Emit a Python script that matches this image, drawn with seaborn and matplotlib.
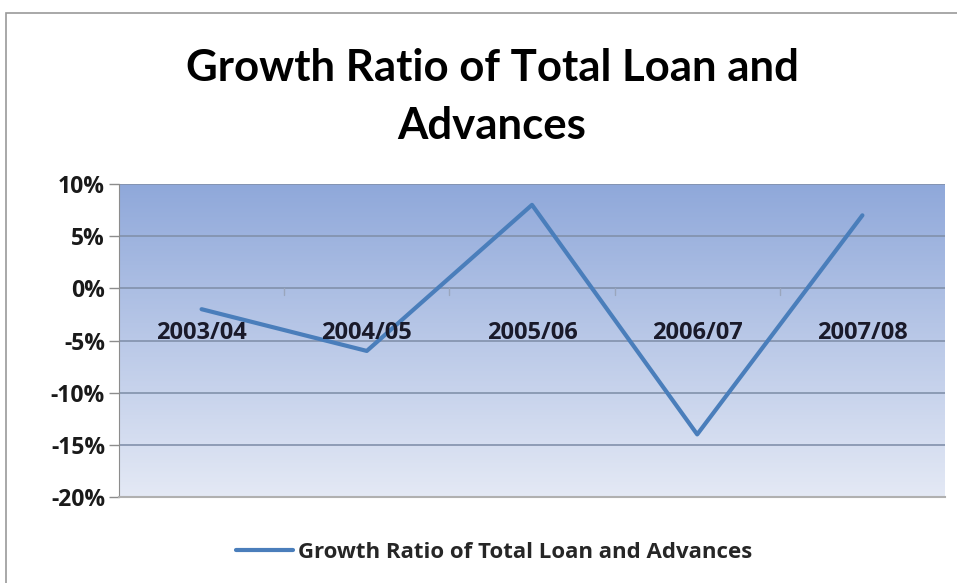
import numpy as np
import pandas as pd
import matplotlib
matplotlib.use("Agg")
import matplotlib.pyplot as plt
from matplotlib.patches import Rectangle
from matplotlib.ticker import FuncFormatter
import seaborn as sns

years = ["2003/04", "2004/05", "2005/06", "2006/07", "2007/08"]
growth = [-0.02, -0.06, 0.08, -0.14, 0.07]
y_ticks = [-0.20, -0.15, -0.10, -0.05, 0.0, 0.05, 0.10]
series_name = "Growth Ratio of Total Loan and Advances"
title_text = "Growth Ratio of Total Loan and\nAdvances"

sns.set_style("white")
plt.rcParams["font.family"] = ["Open Sans", "DejaVu Sans"]

W, H = 957, 583
fig = plt.figure(figsize=(W / 100, H / 100), dpi=100)
fig.patch.set_facecolor("white")

# chart frame
fig.add_artist(Rectangle((6 / W, -0.1), 1.2, 1.1 - 13 / H, transform=fig.transFigure,
                         fill=False, edgecolor="#9a9a9a", linewidth=1.2))

left, right, top, bottom = 119, 945, 184, 497
ax = fig.add_axes([left / W, (H - bottom) / H, (right - left) / W, (bottom - top) / H])

# vertical gradient background of the plot area
top_c = np.array([143, 168, 218]) / 255
bot_c = np.array([228, 233, 245]) / 255
t = np.linspace(0, 1, 256)[:, None]
grad = (top_c * (1 - t) + bot_c * t).reshape(256, 1, 3)
ax.imshow(grad, extent=[0, 1, 0, 1], transform=ax.transAxes, aspect="auto",
          zorder=0, interpolation="bilinear")

df = pd.DataFrame({"year": years, "growth": growth, "series": series_name})
df["pos"] = np.arange(len(years))

ax.set_ylim(-0.20, 0.10)
ax.set_xlim(-0.5, len(years) - 0.5)
for yv in y_ticks:
    ax.axhline(yv, color="#8291ab", linewidth=1.2, zorder=1)

sns.lineplot(data=df, x="pos", y="growth", hue="series", palette=["#4a7ebb"],
             linewidth=3, ax=ax, zorder=3, legend=True)

# small category-boundary ticks on the zero line
for b in np.arange(len(years) - 1) + 0.5:
    ax.plot([b, b], [0, -0.006], color="#9aa6bd", linewidth=1, zorder=2)

ax.set_yticks(y_ticks)
ax.yaxis.set_major_formatter(FuncFormatter(lambda v, p: f"{v * 100:.0f}%"))
ax.tick_params(axis="y", length=7, width=1, color="#8c8c8c", pad=3,
               labelsize=16.5, left=True)
for lab in ax.get_yticklabels():
    lab.set_fontweight("bold")
    lab.set_color("#1a1a1a")
ax.set_xticks([])
ax.set_xlabel("")
ax.set_ylabel("")

for s in ["top", "right"]:
    ax.spines[s].set_visible(False)
ax.spines["left"].set_color("#8c8c8c")
ax.spines["bottom"].set_color("#b0b0b0")
ax.spines["bottom"].set_linewidth(1.5)

# category labels sit just below the zero line
for i, yr in enumerate(years):
    ax.text(i, -0.043, yr, ha="center", va="center", fontsize=17, fontweight="bold",
            color="#1a1a2a", zorder=4)

fig.text(492 / W, 1 - 97 / H, title_text, ha="center", va="center", fontsize=31.5,
         fontweight="bold", color="black", linespacing=1.55, family=["Lato", "DejaVu Sans"])

handles, labels = ax.get_legend_handles_labels()
ax.get_legend().remove()
fig.legend(handles, labels, loc="center", bbox_to_anchor=(494 / W, 1 - 552 / H),
           frameon=False, handlelength=2.55, handletextpad=0.22,
           prop={"size": 16, "weight": "bold"})

fig.savefig("out.png", dpi=100, facecolor="white")
